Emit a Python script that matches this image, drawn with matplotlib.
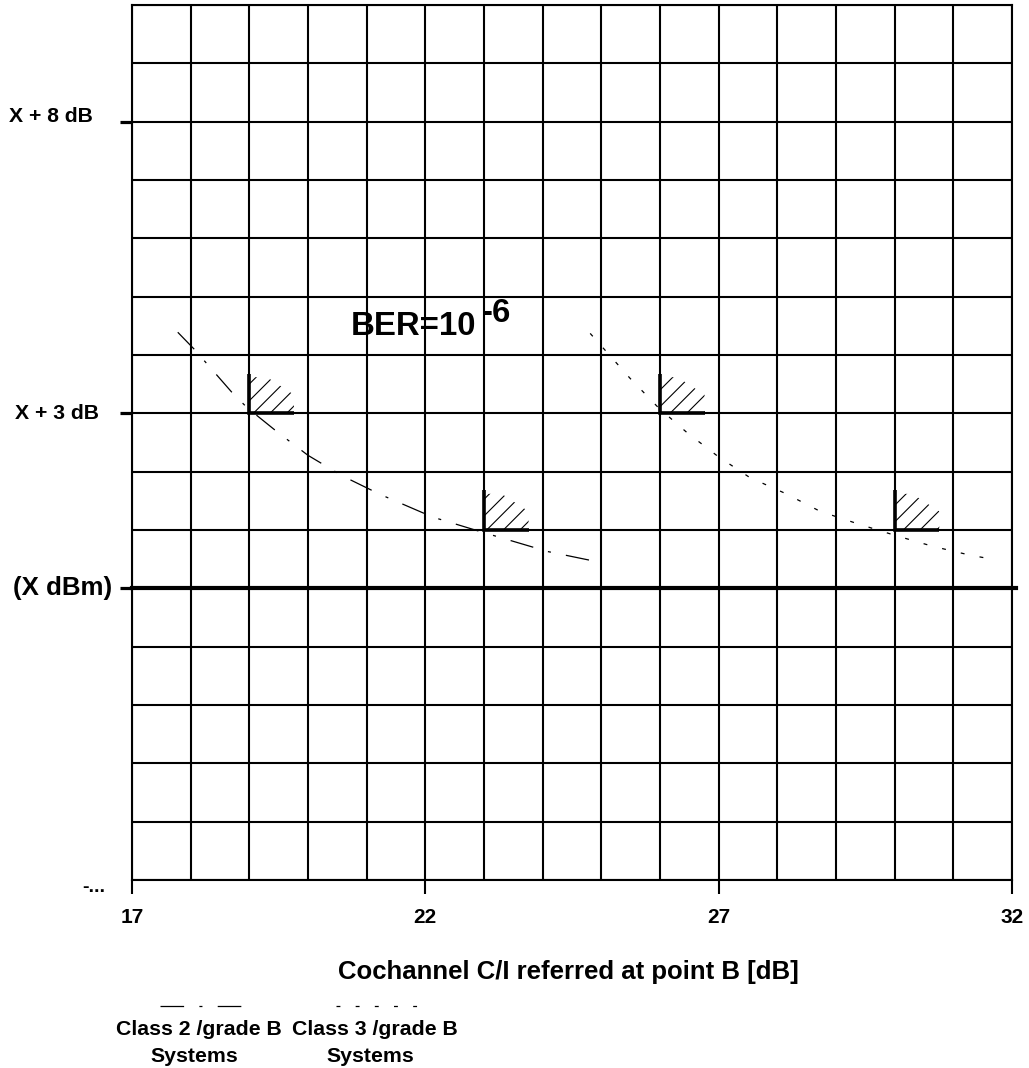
import matplotlib
matplotlib.use("Agg")
import matplotlib.pyplot as plt
from matplotlib.ticker import MultipleLocator
from matplotlib.patches import Polygon
from matplotlib.lines import Line2D

plt.rcParams['font.family'] = ['Liberation Sans', 'DejaVu Sans']
plt.rcParams['font.weight'] = 'bold'
plt.rcParams['lines.scale_dashes'] = False
plt.rcParams['hatch.linewidth'] = 0.8

# ---- data ----
class2_x = [17.78, 18.06, 18.72, 18.96, 19.49, 20.0, 20.6, 21.23, 22.13, 22.98, 24.09, 24.91]
class2_y = [4.39, 4.10, 3.34, 3.10, 2.67, 2.28, 1.92, 1.61, 1.22, 0.96, 0.63, 0.46]
class3_x = [24.81, 25.49, 25.97, 26.46, 26.99, 27.53, 28.13, 28.73, 29.36, 30.0, 30.65, 31.28, 31.66]
class3_y = [4.37, 3.60, 3.10, 2.67, 2.26, 1.90, 1.63, 1.32, 1.11, 0.91, 0.72, 0.57, 0.50]
req_x = [19, 23, 26, 30]
req_y = [3, 1, 3, 1]
xticks = [17, 22, 27, 32]
xticklabels = ['17', '22', '27', '32']
yticks = [8, 3, 0]
ylabels = ['X + 8 dB', 'X + 3 dB', '(X dBm)', '-...']
ylabel_pos = [8.08, 3.0, 0.0, -5.12]
ylabel_x = [-0.0443, -0.0375, -0.0227, -0.0307]
ylabel_size = [15.2, 15.2, 18.6, 14]

W, H = 1029, 1068
fig = plt.figure(figsize=(W / 100, H / 100), dpi=100)
ax = fig.add_axes([132 / W, 1 - 880 / H, 880 / W, 875 / H])
ax.set_xlim(17, 32)
ax.set_ylim(-5, 10)

ax.xaxis.set_minor_locator(MultipleLocator(1))
ax.yaxis.set_minor_locator(MultipleLocator(1))
ax.grid(which='both', color='black', linewidth=1.5)
ax.tick_params(which='minor', length=0)
for s in ax.spines.values():
    s.set_linewidth(1.5)
    s.set_color('black')

ax.set_xticks(xticks)
ax.set_xticklabels(xticklabels, fontsize=15, fontweight='bold')
ax.tick_params(axis='x', which='major', length=10, width=1.5, pad=10.5)
ax.set_yticks(yticks)
ax.set_yticklabels([])
ax.tick_params(axis='y', which='major', length=8.6, width=2.3)

for lab, yp, xp, fs in zip(ylabels, ylabel_pos, ylabel_x, ylabel_size):
    ax.text(xp, yp, lab, transform=ax.get_yaxis_transform(), ha='right', va='center',
            fontsize=fs, fontweight='bold')

ax.axhline(0, color='black', linewidth=3, xmax=1.004, clip_on=False)

# curves
ax.plot(class2_x, class2_y, color='black', lw=0.9, linestyle=(0, (17, 11, 2.2, 11)))
ax.plot(class3_x, class3_y, color='black', lw=0.9, linestyle=(0, (2.8, 11)))

# requirement markers
for x0, y0 in zip(req_x, req_y):
    ax.plot([x0, x0, x0 + 0.76], [y0 + 0.68, y0, y0], color='black', lw=2.6,
            solid_joinstyle='miter', solid_capstyle='butt')
    poly = Polygon([(x0, y0), (x0, y0 + 0.62), (x0 + 0.3, y0 + 0.62),
                    (x0 + 0.76, y0 + 0.32), (x0 + 0.76, y0)],
                   closed=True, fill=False, hatch='//', edgecolor='black', linewidth=0)
    ax.add_patch(poly)

# BER label
ax.text(351 / W, 1 - 335 / H, 'BER=10', transform=fig.transFigure, fontsize=23.8,
        fontweight='bold', ha='left', va='baseline')
ax.text(482 / W, 1 - 322 / H, '-6', transform=fig.transFigure, fontsize=23.8,
        fontweight='bold', ha='left', va='baseline')

ax.set_xlabel('Cochannel C/I referred at point B [dB]', fontsize=18.5, fontweight='bold')
ax.xaxis.set_label_coords((568 - 132) / 880, (880 - 960) / 875)

# legend
fig.add_artist(Line2D([160 / W, 244 / W], [1 - 1006 / H] * 2, color='black', lw=0.9,
                      linestyle=(0, (17, 11, 2.2, 11)), transform=fig.transFigure))
fig.add_artist(Line2D([336 / W, 420 / W], [1 - 1006 / H] * 2, color='black', lw=0.9,
                      linestyle=(0, (2.8, 11)), transform=fig.transFigure))
fig.text(199 / W, 1 - 1035 / H, 'Class 2 /grade B', ha='center', va='baseline',
         fontsize=15.3, fontweight='bold')
fig.text(194 / W, 1 - 1062 / H, 'Systems', ha='center', va='baseline',
         fontsize=15.3, fontweight='bold')
fig.text(375 / W, 1 - 1035 / H, 'Class 3 /grade B', ha='center', va='baseline',
         fontsize=15.3, fontweight='bold')
fig.text(370 / W, 1 - 1062 / H, 'Systems', ha='center', va='baseline',
         fontsize=15.3, fontweight='bold')

fig.savefig('out.png', dpi=100, facecolor='white')
